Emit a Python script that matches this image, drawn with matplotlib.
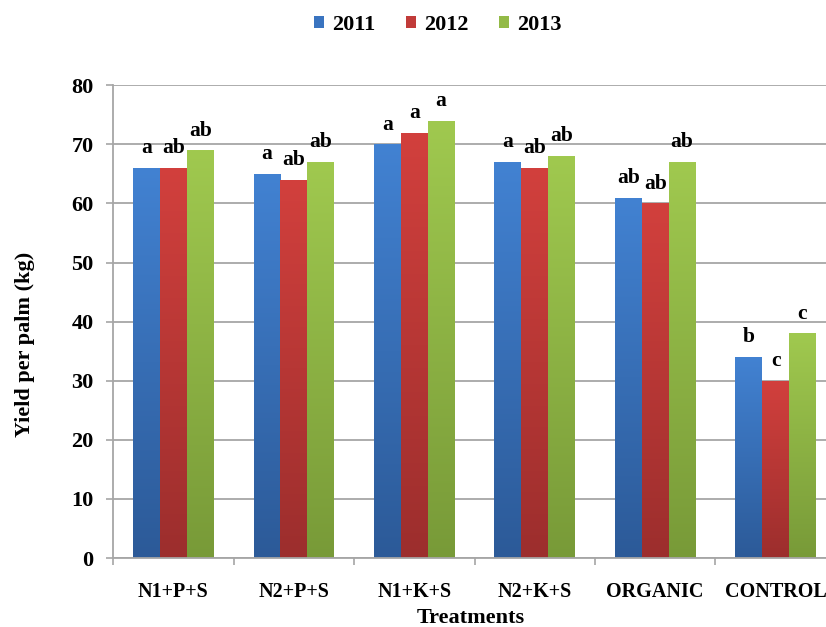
import numpy as np
import matplotlib.pyplot as plt
from matplotlib.colors import LinearSegmentedColormap

plt.rcParams['font.family'] = ['Liberation Serif', 'DejaVu Serif']
plt.rcParams['font.weight'] = 'bold'

treatments = ['N1+P+S', 'N2+P+S', 'N1+K+S', 'N2+K+S', 'ORGANIC', 'CONTROL']
years = ['2011', '2012', '2013']
y2011 = [66, 65, 70, 67, 61, 34]
y2012 = [66, 64, 72, 66, 60, 30]
y2013 = [69, 67, 74, 68, 67, 38]
let2011 = ['a', 'a', 'a', 'a', 'ab', 'b']
let2012 = ['ab', 'ab', 'a', 'ab', 'ab', 'c']
let2013 = ['ab', 'ab', 'a', 'ab', 'ab', 'c']

series = [y2011, y2012, y2013]
letters = [let2011, let2012, let2013]
top_cols = ['#4282d2', '#d2403d', '#a0c94f']
bot_cols = ['#2c5a98', '#9c2e2d', '#789a38']
mid_cols = ['#3a74c0', '#c13b39', '#93ba47']

fig = plt.figure(figsize=(8.26, 6.27), dpi=100)
ax = fig.add_axes([0.137, 0.110, 0.875, 0.754])

x = np.arange(len(treatments))
w = 0.223
grad = np.linspace(1, 0, 256).reshape(-1, 1)
for i in range(3):
    bars = ax.bar(x + (i - 1) * w, series[i], w, color=mid_cols[i], label=years[i], zorder=2)
    cmap = LinearSegmentedColormap.from_list('g%d' % i, [bot_cols[i], top_cols[i]])
    for b, lab in zip(bars, letters[i]):
        x0, y0 = b.get_x(), b.get_y()
        im = ax.imshow(grad, extent=[x0, x0 + b.get_width(), y0, y0 + b.get_height()],
                       cmap=cmap, aspect='auto', zorder=2.5, vmin=0, vmax=1)
        im.set_clip_path(b)
        ax.annotate(lab, (b.get_x() + b.get_width() / 2, b.get_height()),
                    xytext=(0, 7), textcoords='offset points', ha='center', va='bottom',
                    fontsize=15.5, fontweight='bold')

ax.set_xlim(-0.5, 5.5)
ax.set_ylim(0, 80)
ax.set_yticks(range(0, 81, 10))
ax.yaxis.grid(True, color='#a6a6a6', linewidth=1.3, zorder=0)
ax.set_axisbelow(True)
ax.set_xticks(x)
ax.set_xticklabels(treatments, fontsize=14.5, fontweight='bold')
ax.set_xticks(np.arange(-0.5, 6, 1), minor=True)
ax.tick_params(axis='x', which='major', length=0, pad=17)
ax.tick_params(axis='x', which='minor', length=5, color='#a6a6a6', width=1.2)
ax.tick_params(axis='y', length=5, color='#a6a6a6', width=1.2, labelsize=16, pad=9)
for t in ax.get_yticklabels():
    t.set_fontweight('bold')
for s in ['top', 'right']:
    ax.spines[s].set_visible(False)
for s in ['left', 'bottom']:
    ax.spines[s].set_color('#a6a6a6')
    ax.spines[s].set_linewidth(1.3)

ax.set_ylabel('Yield per palm (kg)', fontsize=16, fontweight='bold')
ax.yaxis.set_label_coords(-0.108, 0.452)
ax.set_xlabel('Treatments', fontsize=16, fontweight='bold')
ax.xaxis.set_label_coords(0.495, -0.105)

fig.legend(loc='center', bbox_to_anchor=(0.53, 0.96), ncol=3, frameon=False,
           handlelength=0.45, handleheight=0.45, columnspacing=1.4,
           handletextpad=0.35, prop={'weight': 'bold', 'size': 16})

fig.savefig('out.png', dpi=100)
